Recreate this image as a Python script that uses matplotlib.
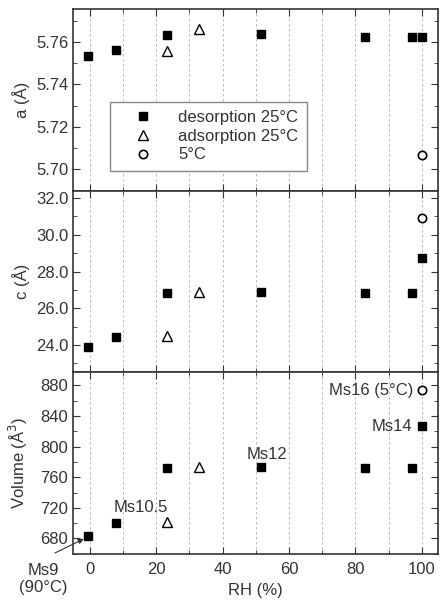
import numpy as np
import matplotlib.pyplot as plt
from matplotlib.ticker import MultipleLocator, FormatStrFormatter

plt.rcParams['font.family'] = ['Liberation Sans', 'DejaVu Sans']
plt.rcParams['font.size'] = 12

# desorption 25 C
rh_des = [-0.5, 8.0, 23.2, 51.6, 83.0, 97.0, 100.0]
a_des = [5.7532, 5.7564, 5.7634, 5.7636, 5.7625, 5.7624, 5.7624]
c_des = [23.87, 24.43, 26.82, 26.86, 26.82, 26.82, 28.72]
v_des = [682.6, 700.5, 771.7, 773.0, 771.7, 772.6, 826.7]

# adsorption 25 C
rh_ads = [23.2, 32.9]
a_ads = [5.7559, 5.7662]
c_ads = [24.47, 26.88]
v_ads = [701.8, 773.9]

# 5 C
rh_cold = [100.0]
a_cold = [5.7069]
c_cold = [30.93]
v_cold = [873.9]

fig, axes = plt.subplots(3, 1, figsize=(4.41, 6.03), dpi=100, sharex=True)
fig.subplots_adjust(left=0.166, right=0.994, top=0.985, bottom=0.081, hspace=0)

tc = '#333333'
sets = [(a_des, a_ads, a_cold), (c_des, c_ads, c_cold), (v_des, v_ads, v_cold)]
for ax, (d, ad, cd) in zip(axes, sets):
    ax.plot(rh_des, d, 's', color='black', ms=6, label='desorption 25°C', zorder=3)
    ax.plot(rh_ads, ad, '^', mfc='white', mec='black', mew=1.0, ms=7.5,
            label='adsorption 25°C', zorder=3)
    ax.plot(rh_cold, cd, 'o', mfc='white', mec='black', mew=1.2, ms=6,
            label='5°C', zorder=3)
    ax.set_xlim(-5, 105)
    ax.xaxis.set_major_locator(MultipleLocator(20))
    ax.xaxis.set_minor_locator(MultipleLocator(10))
    ax.grid(True, axis='x', which='both', linestyle=(0, (3, 3)), color='#b0b0b0', lw=0.6)
    ax.tick_params(which='both', direction='in', top=True, right=True, colors=tc,
                   labelcolor=tc)
    ax.tick_params(which='major', length=5)
    ax.tick_params(which='minor', length=3)
    ax.tick_params(axis='x', pad=6)
    for s in ax.spines.values():
        s.set_color(tc)
        s.set_linewidth(1.2)

ax1, ax2, ax3 = axes

ax1.set_ylim(5.69, 5.7755)
ax1.yaxis.set_major_locator(MultipleLocator(0.02))
ax1.yaxis.set_minor_locator(MultipleLocator(0.01))
ax1.yaxis.set_major_formatter(FormatStrFormatter('%.2f'))
ax1.set_ylabel('a (Å)', color=tc)
leg = ax1.legend(loc='lower left', bbox_to_anchor=(0.1, 0.11), borderaxespad=0,
                 fancybox=False, edgecolor='#888888', framealpha=1, handlelength=3.0,
                 handletextpad=0.6, borderpad=0.5, labelspacing=0.22)
leg.get_frame().set_linewidth(1.0)
for t in leg.get_texts():
    t.set_color(tc)

ax2.set_ylim(22.5, 32.4)
ax2.yaxis.set_major_locator(MultipleLocator(2))
ax2.yaxis.set_minor_locator(MultipleLocator(1))
ax2.yaxis.set_major_formatter(FormatStrFormatter('%.1f'))
ax2.set_ylabel('c (Å)', color=tc)

ax3.set_ylim(659.5, 897)
ax3.yaxis.set_major_locator(MultipleLocator(40))
ax3.yaxis.set_minor_locator(MultipleLocator(20))
ax3.set_ylabel('Volume (Å$^3$)', color=tc)
ax3.set_xlabel('RH (%)', color=tc, labelpad=4)

ax3.text(15.3, 720, 'Ms10.5', ha='center', va='center', color=tc)
ax3.text(53.5, 790, 'Ms12', ha='center', va='center', color=tc)
ax3.text(97.0, 826.7, 'Ms14', ha='right', va='center', color=tc)
ax3.text(97.5, 873.5, 'Ms16 (5°C)', ha='right', va='center', color=tc)
ax3.text(-13.9, 627, 'Ms9\n(90°C)', ha='center', va='center', color=tc,
         clip_on=False, linespacing=1.2)
ax3.annotate('', xy=(-1.8, 679.5), xytext=(-10.5, 661),
             annotation_clip=False,
             arrowprops=dict(arrowstyle='-|>', color=tc, lw=0.8,
                             shrinkA=0, shrinkB=0, mutation_scale=8))

fig.align_ylabels(axes)
plt.savefig('out.png', dpi=100)
